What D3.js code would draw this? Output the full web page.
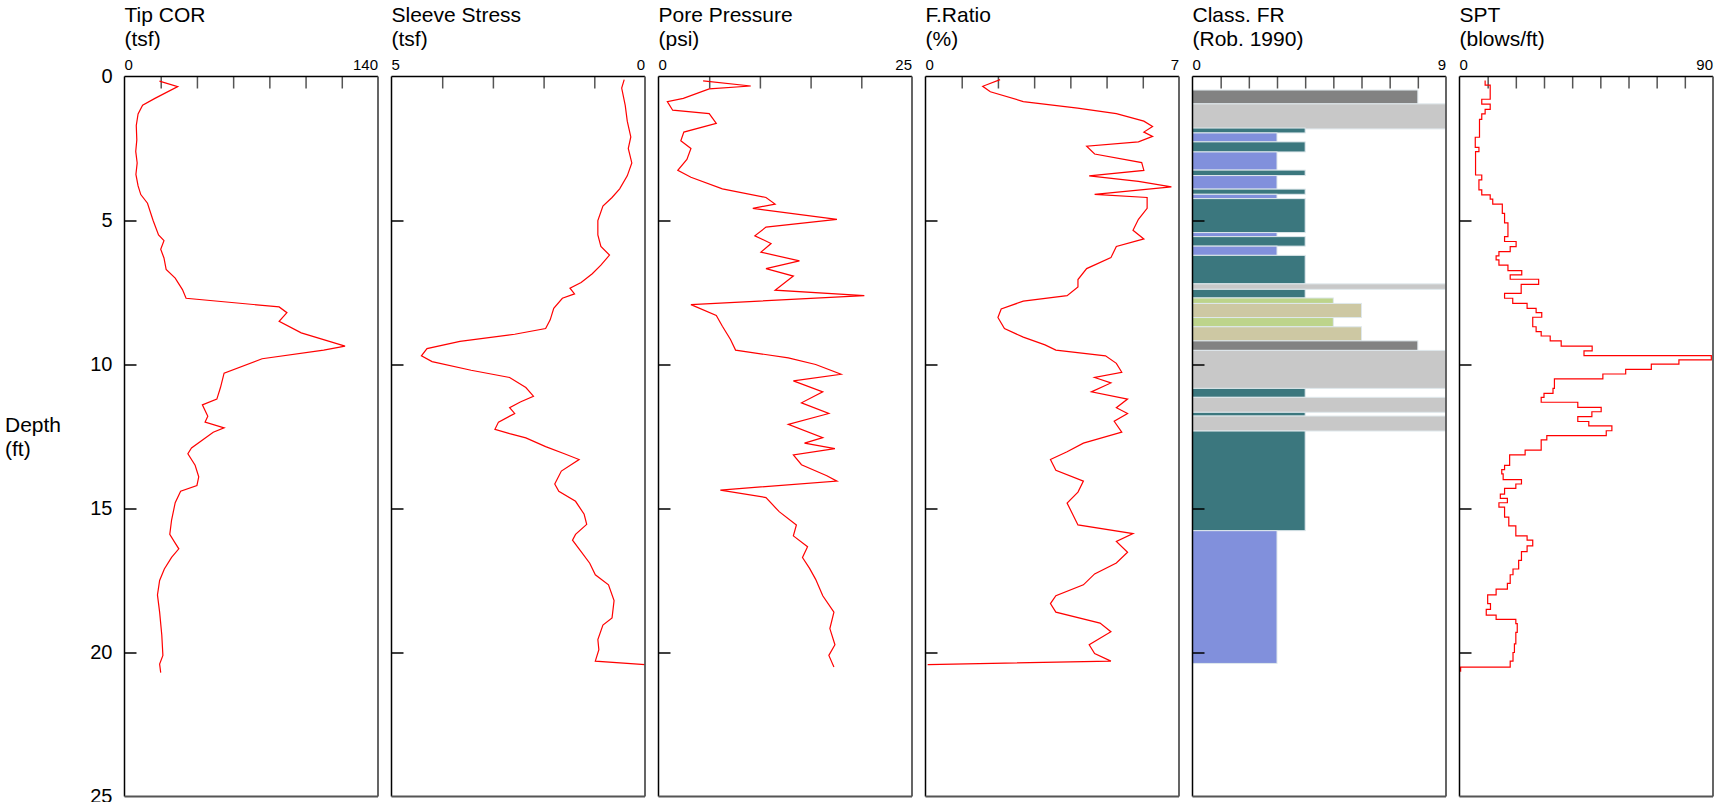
<!DOCTYPE html>
<html>
<head>
<meta charset="utf-8">
<script src="https://cdn.jsdelivr.net/npm/d3@7"></script>
<style>
  body { margin: 0; background: #fff; }
  text { font-family: "Liberation Sans", Arial, sans-serif; fill: #000; }
</style>
</head>
<body>
<svg id="chart" width="1716" height="802"></svg>
<script>
// panel setup
var titles = ["Tip COR", "Sleeve Stress", "Pore Pressure", "F.Ratio", "Class. FR", "SPT"];
var units = ["(tsf)", "(tsf)", "(psi)", "(%)", "(Rob. 1990)", "(blows/ft)"];
var domains = [[0, 140], [5, 0], [0, 25], [0, 7], [0, 9], [0, 90]];
var tickSteps = [20, 1, 5, 1, 1, 10];
var depthTicks = [0, 5, 10, 15, 20, 25];

// [depth ft, value]
var tipCor = [[0.16,19.3],[0.35,29.4],[0.76,16.8],[1.0,10],[1.3,7.5],[1.7,6.5],[2.2,6.8],[2.6,6.2],[3.0,7],[3.4,6.3],[3.8,7.5],[4.1,9],[4.4,12.7],[5.0,15.8],[5.5,18.8],[5.7,21.8],[6.0,20],[6.3,21.8],[6.7,23],[7.0,28],[7.4,32],[7.7,34],[8.0,85.4],[8.2,89.7],[8.5,85.4],[8.9,97.6],[9.36,121.8],[9.5,110],[9.8,76],[10.3,55],[10.8,53],[11.2,51],[11.4,43],[11.8,46],[12.0,44.5],[12.2,55],[12.35,49],[12.9,37],[13.1,35],[13.5,39],[13.9,41],[14.2,40],[14.4,31],[14.8,28],[15.4,26],[15.9,25],[16.2,28],[16.4,30],[16.7,26],[17.1,22],[17.5,19.4],[18.0,18.2],[18.6,19.4],[19.4,20.6],[20.1,21.2],[20.4,19.4],[20.7,20]];

var sleeveStress = [[0.11,0.41],[0.4,0.46],[1.0,0.39],[1.55,0.35],[2.1,0.28],[2.5,0.33],[3.0,0.26],[3.45,0.35],[3.9,0.5],[4.2,0.65],[4.5,0.83],[5.0,0.93],[5.5,0.93],[5.9,0.87],[6.2,0.7],[6.55,0.87],[6.85,1.04],[7.15,1.26],[7.35,1.48],[7.55,1.39],[7.7,1.63],[8.05,1.8],[8.45,1.87],[8.75,1.96],[8.95,2.57],[9.2,3.65],[9.45,4.3],[9.7,4.41],[9.9,4.2],[10.2,3.43],[10.45,2.67],[10.8,2.35],[11.1,2.2],[11.3,2.46],[11.5,2.67],[11.7,2.57],[12.0,2.89],[12.25,2.96],[12.4,2.67],[12.55,2.35],[12.85,1.96],[13.1,1.59],[13.3,1.3],[13.7,1.65],[14.15,1.78],[14.4,1.7],[14.75,1.37],[15.2,1.2],[15.55,1.15],[15.9,1.37],[16.1,1.43],[16.5,1.26],[16.9,1.09],[17.3,0.98],[17.65,0.72],[18.2,0.61],[18.8,0.65],[19.05,0.83],[19.55,0.93],[19.9,0.91],[20.3,0.98],[20.42,0]];

var porePressure = [[0.15,4.4],[0.33,9.1],[0.43,5.0],[0.76,2.45],[0.87,0.87],[1.17,1.4],[1.29,5.0],[1.63,5.7],[1.93,2.5],[2.23,2.2],[2.5,3.2],[2.88,2.8],[3.26,1.9],[3.5,3.2],[3.9,6.3],[4.2,10.6],[4.43,11.5],[4.58,9.3],[4.96,17.6],[5.23,10.6],[5.53,9.5],[5.8,11.1],[6.1,10.1],[6.4,13.9],[6.67,10.6],[6.93,13.3],[7.42,11.5],[7.61,20.3],[7.92,3.2],[8.3,5.7],[8.67,6.3],[9.13,7.1],[9.5,7.6],[9.77,12.8],[10.0,15.5],[10.34,18.0],[10.57,13.3],[10.95,16.2],[11.33,14.1],[11.7,16.8],[12.08,12.8],[12.54,16.2],[12.73,14.4],[12.92,17.4],[13.14,13.3],[13.48,14.1],[13.86,16.6],[14.05,17.6],[14.36,6.1],[14.62,10.6],[15.11,11.9],[15.57,13.6],[15.95,13.3],[16.33,14.7],[16.7,14.2],[17.08,14.9],[17.46,15.5],[18.03,16.2],[18.6,17.3],[19.17,16.9],[19.73,17.4],[20.1,16.8],[20.5,17.3]];

var fRatio = [[0.11,2.06],[0.34,1.58],[0.53,1.79],[0.87,2.7],[1.1,4.2],[1.29,5.27],[1.55,6.03],[1.74,6.27],[1.93,6.03],[2.08,6.27],[2.27,5.88],[2.42,4.45],[2.69,4.67],[2.99,5.97],[3.26,6.03],[3.45,4.52],[3.64,5.88],[3.83,6.79],[4.09,4.67],[4.2,6.12],[4.58,6.12],[4.96,5.88],[5.34,5.73],[5.64,6.03],[5.9,5.27],[6.29,5.12],[6.67,4.45],[7.05,4.21],[7.31,4.21],[7.61,3.91],[7.8,2.7],[8.07,2.09],[8.37,2.0],[8.75,2.18],[9.05,2.7],[9.32,3.3],[9.5,3.6],[9.7,4.97],[9.96,5.27],[10.27,5.42],[10.45,4.67],[10.64,5.12],[10.95,4.58],[11.2,5.58],[11.5,5.27],[11.7,5.58],[11.97,5.21],[12.35,5.42],[12.73,4.36],[13.03,3.91],[13.3,3.45],[13.67,3.6],[14.05,4.36],[14.43,4.21],[14.81,3.91],[15.19,4.06],[15.57,4.21],[15.87,5.73],[16.14,5.27],[16.52,5.58],[16.89,5.27],[17.27,4.67],[17.65,4.36],[18.03,3.6],[18.3,3.45],[18.6,3.6],[18.98,4.82],[19.28,5.12],[19.73,4.52],[20.04,4.67],[20.3,5.12],[20.42,0.06]];

// [top depth, bottom depth, zone]
var classFR = [[0.47,0.95,8],[0.95,1.82,9],[1.79,1.96,4],[1.96,2.27,3],[2.27,2.62,4],[2.62,3.25,3],[3.25,3.44,4],[3.44,3.91,3],[3.91,4.09,4],[4.09,4.24,3],[4.24,5.42,4],[5.42,5.56,3],[5.56,5.89,4],[5.89,6.21,3],[6.21,7.2,4],[7.2,7.39,9],[7.39,7.69,4],[7.69,7.88,5],[7.88,8.37,6],[8.37,8.69,5],[8.69,9.18,6],[9.18,9.51,8],[9.51,10.83,9],[10.83,11.14,4],[11.14,11.66,9],[11.66,11.79,4],[11.79,12.31,9],[12.31,15.77,4],[15.77,20.38,3]];
var zoneColors = {3: "#8190dc", 4: "#3b777e", 5: "#bdd48b", 6: "#cdc8a3", 8: "#828282", 9: "#c8c8c8"};

// SPT steps: [top depth, blows/ft]
var spt = [[0.14,9.1],[0.3,10.9],[0.79,7.9],[0.96,10.9],[1.14,9.1],[1.3,7.9],[1.49,7.1],[2.11,5.6],[2.46,6.9],[2.61,5.7],[3.42,7.9],[3.59,6.9],[3.94,7.9],[4.11,10.9],[4.26,11.8],[4.43,15.2],[4.75,16],[5.08,17.2],[5.56,16],[5.73,20.1],[5.91,18],[6.08,14],[6.23,13],[6.37,14],[6.55,17.2],[6.74,22.1],[6.89,18],[7.04,28.1],[7.22,21.9],[7.53,16],[7.7,18.9],[7.88,24],[8.05,27.2],[8.2,29.2],[8.36,26],[8.69,27.2],[8.86,29],[9.01,32.2],[9.18,36.1],[9.36,47.1],[9.53,44.2],[9.69,89.4],[9.84,77.9],[9.99,68.1],[10.17,59],[10.33,50.9],[10.5,33.7],[10.83,33.2],[11.0,30],[11.14,29],[11.31,42],[11.49,50.3],[11.64,47],[11.81,42],[11.98,45.9],[12.13,54.1],[12.3,52.1],[12.47,31],[12.62,29],[12.97,23.3],[13.14,17.8],[13.5,16],[13.65,15],[13.8,15.5],[14.0,22],[14.15,20],[14.3,16],[14.5,14.5],[14.65,17],[14.8,14],[14.95,16],[15.3,17.5],[15.6,20],[15.95,24],[16.1,26],[16.3,24],[16.5,22],[16.8,21],[17.1,19],[17.3,18],[17.6,17],[17.8,13],[18.0,10],[18.3,11],[18.5,9.5],[18.7,13],[18.85,20],[19.0,20.5],[19.3,20],[19.7,19.5],[20.0,19],[20.3,18],[20.51,0.4],[20.67,0.4]];

var series = [tipCor, sleeveStress, porePressure, fRatio, null, spt];

var svg = d3.select("#chart");
var left0 = 124.5, pitch = 267, pw = 253.5;
var y = d3.scaleLinear().domain([0, 25]).range([76.5, 796.5]);

// depth axis labels
svg.append("g")
  .attr("transform", "translate(" + left0 + ",0)")
  .call(d3.axisLeft(y).tickValues(depthTicks).tickSize(0).tickPadding(12))
  .call(function(g) {
    g.select(".domain").remove();
    g.selectAll("text").style("font-size", "20px").attr("fill", "#000")
      .style("font-family", "'Liberation Sans', Arial, sans-serif");
  });

svg.append("text").attr("x", 5).attr("y", 432).style("font-size", "21px").text("Depth");
svg.append("text").attr("x", 5).attr("y", 456).style("font-size", "21px").text("(ft)");

titles.forEach(function(t, i) {
  var x0 = left0 + i * pitch;
  var x = d3.scaleLinear().domain(domains[i]).range([x0, x0 + pw]);
  var g = svg.append("g");

  g.append("text").attr("x", x0).attr("y", 22).style("font-size", "21px").text(t);
  g.append("text").attr("x", x0).attr("y", 46).style("font-size", "21px").text(units[i]);

  // end labels only
  g.append("text").attr("x", x0).attr("y", 70).style("font-size", "15px").text(domains[i][0]);
  g.append("text").attr("x", x0 + pw).attr("y", 70).attr("text-anchor", "end")
    .style("font-size", "15px").text(domains[i][1]);

  // class bars
  if (i === 4) {
    g.selectAll("rect.zone").data(classFR).enter().append("rect")
      .attr("class", "zone")
      .attr("x", x(0))
      .attr("y", function(d) { return y(d[0]); })
      .attr("width", function(d) { return x(d[2]) - x(0); })
      .attr("height", function(d) { return y(d[1]) - y(d[0]); })
      .attr("fill", function(d) { return zoneColors[d[2]]; })
      .attr("stroke", "#dfe8ec")
      .attr("stroke-width", 1);
  }

  // inner ticks on top
  var lo = Math.min(domains[i][0], domains[i][1]), hi = Math.max(domains[i][0], domains[i][1]);
  var tv = d3.range(lo + tickSteps[i], hi - tickSteps[i] / 2, tickSteps[i]);
  g.append("g")
    .attr("transform", "translate(0," + y(0) + ")")
    .call(d3.axisBottom(x).tickValues(tv).tickSize(12).tickFormat(""))
    .call(function(a) {
      a.select(".domain").remove();
      a.selectAll("line").attr("stroke", "#555").attr("stroke-width", 1.5);
    });

  // depth ticks inside left edge
  g.append("g")
    .attr("transform", "translate(" + x0 + ",0)")
    .call(d3.axisRight(y).tickValues([5, 10, 15, 20]).tickSize(12).tickFormat(""))
    .call(function(a) {
      a.select(".domain").remove();
      a.selectAll("line").attr("stroke", "#000").attr("stroke-width", 1.5);
    });

  // curve
  if (series[i]) {
    var line = d3.line()
      .x(function(d) { return x(d[1]); })
      .y(function(d) { return y(d[0]); });
    if (i === 5) line.curve(d3.curveStepBefore);
    g.append("path").datum(series[i])
      .attr("d", line)
      .attr("fill", "none")
      .attr("stroke", "#ff0000")
      .attr("stroke-width", 1.2);
  }

  // frame
  g.append("line").attr("x1", x0).attr("x2", x0 + pw).attr("y1", y(0)).attr("y2", y(0))
    .attr("stroke", "#000").attr("stroke-width", 1.5);
  g.append("line").attr("x1", x0).attr("x2", x0).attr("y1", y(0)).attr("y2", y(25))
    .attr("stroke", "#000").attr("stroke-width", 1.5);
  g.append("line").attr("x1", x0 + pw).attr("x2", x0 + pw).attr("y1", y(0)).attr("y2", y(25))
    .attr("stroke", "#555").attr("stroke-width", 1.8);
  g.append("line").attr("x1", x0).attr("x2", x0 + pw).attr("y1", y(25)).attr("y2", y(25))
    .attr("stroke", "#555").attr("stroke-width", 1.8);
});
</script>
</body>
</html>
